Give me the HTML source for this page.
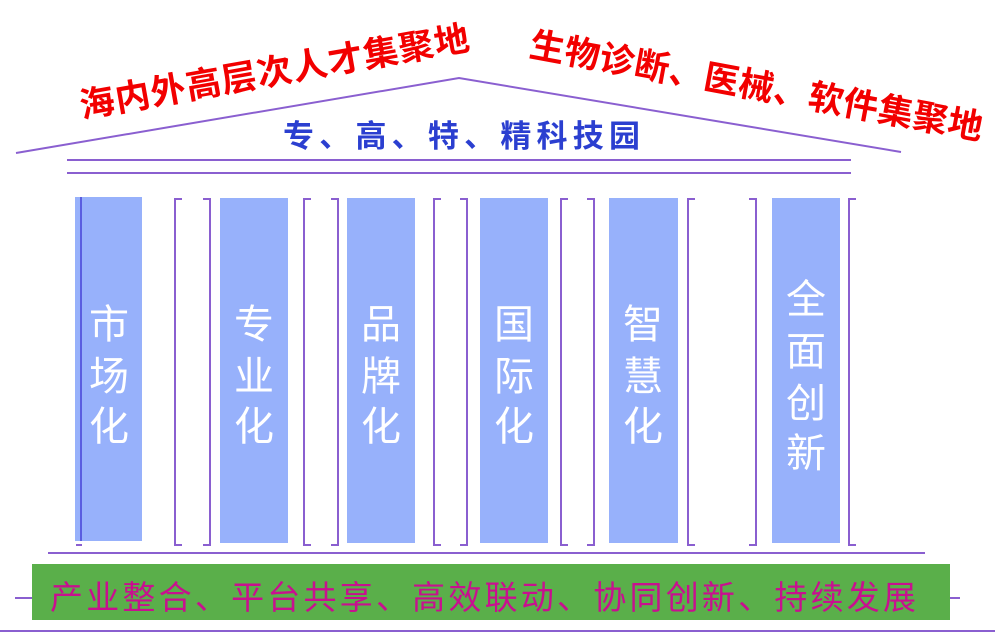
<!DOCTYPE html>
<html><head><meta charset="utf-8"><style>html,body{margin:0;padding:0;background:#fff}svg{display:block}</style></head><body>
<svg width="995" height="638" viewBox="0 0 995 638" xmlns="http://www.w3.org/2000/svg" font-family="'Liberation Sans','Noto Sans CJK SC',sans-serif">
<polyline points="16,153 459,78 901,152" fill="none" stroke="#8a5fd0" stroke-width="2"/>
<line x1="67" y1="160" x2="851" y2="160" stroke="#8a5fd0" stroke-width="2"/>
<line x1="67" y1="173" x2="851" y2="173" stroke="#8a5fd0" stroke-width="2"/>
<text x="283" y="147" font-size="31" font-weight="bold" fill="#2b3fd0" textLength="357">专、高、特、精科技园</text>
<text transform="translate(82,118) rotate(-10)" font-size="35" font-weight="bold" fill="#f20000" textLength="395">海内外高层次人才集聚地</text>
<text transform="translate(528,56) rotate(10.5)" font-size="35" font-weight="bold" fill="#f20000" textLength="460">生物诊断、医械、软件集聚地</text>
<g fill="#97b1fb">
<rect x="75" y="197" width="67" height="344"/>
<rect x="220" y="198" width="68" height="345"/>
<rect x="347" y="198" width="68" height="345"/>
<rect x="480" y="198" width="68" height="345"/>
<rect x="609" y="198" width="69" height="345"/>
<rect x="772" y="198" width="68" height="345"/>
</g>
<line x1="81" y1="197" x2="81" y2="541" stroke="#5a5ee0" stroke-width="2"/>
<g fill="none" stroke="#8a5fd0" stroke-width="2">
<path d="M182,199 H175 V545 H182"/><path d="M203,199 H210 V545 H203"/>
<path d="M311,199 H304 V545 H311"/><path d="M331,199 H338 V545 H331"/>
<path d="M441,199 H434 V545 H441"/><path d="M460,199 H467 V545 H460"/>
<path d="M568,199 H561 V545 H568"/><path d="M587,199 H594 V545 H587"/>
<path d="M695,199 H688 V545 H695"/><path d="M749,199 H756 V545 H749"/>
<path d="M856,199 H849 V545 H856"/>
<path d="M76,545 H82"/>
</g>
<g fill="#fff" font-size="40" text-anchor="middle">
<text x="109" y="338">市</text><text x="109" y="390">场</text><text x="109" y="440">化</text>
<text x="254" y="338">专</text><text x="254" y="390">业</text><text x="254" y="440">化</text>
<text x="381" y="338">品</text><text x="381" y="390">牌</text><text x="381" y="440">化</text>
<text x="514" y="338">国</text><text x="514" y="390">际</text><text x="514" y="440">化</text>
<text x="643" y="338">智</text><text x="643" y="390">慧</text><text x="643" y="440">化</text>
<text x="806" y="313">全</text><text x="806" y="365">面</text><text x="806" y="417">创</text><text x="806" y="467">新</text>
</g>
<line x1="48" y1="553" x2="925" y2="553" stroke="#8a5fd0" stroke-width="2"/>
<line x1="15" y1="598" x2="960" y2="598" stroke="#8a5fd0" stroke-width="2"/>
<rect x="32" y="564" width="918" height="56" fill="#5aaf4a"/>
<text x="50" y="609" font-size="33" fill="#c8108f" textLength="866">产业整合、平台共享、高效联动、协同创新、持续发展</text>
<line x1="0" y1="631" x2="995" y2="631" stroke="#8a5fd0" stroke-width="2"/>
</svg>
</body></html>
